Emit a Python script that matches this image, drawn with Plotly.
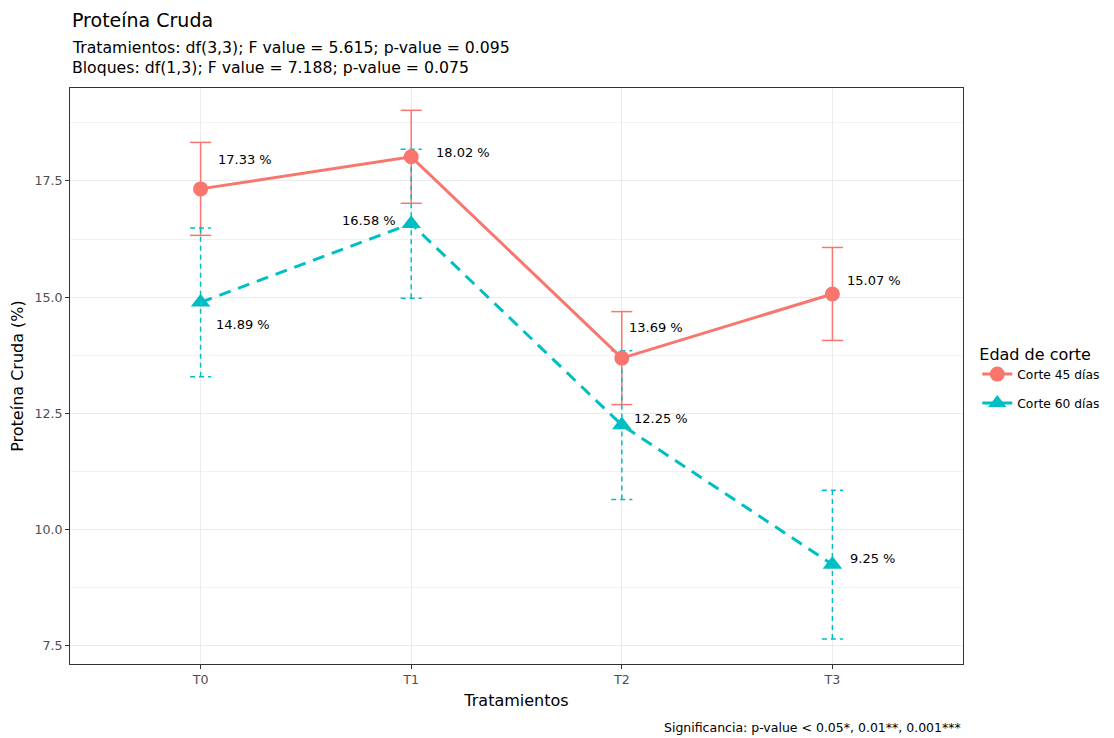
import plotly.graph_objects as go

categories = ["T0", "T1", "T2", "T3"]
series_names = ["Corte 45 días", "Corte 60 días"]
corte45 = [17.33, 18.02, 13.69, 15.07]
corte45_se = [1.0, 1.0, 1.0, 1.0]
corte60 = [14.89, 16.58, 12.25, 9.25]
corte60_se = [1.6, 1.6, 1.6, 1.6]
y_ticks = [7.5, 10.0, 12.5, 15.0, 17.5]

# styling / placement (not data)
colors = ["#F8766D", "#00BFC4"]
label_offsets = [
    [(44, 29), (52, 4), (34, 31), (42, 13)],
    [(42, -22), (-42, 3), (39, 7), (40, 6)],
]
cap_half = 0.05
FONT = "DejaVu Sans, Liberation Sans, Arial, sans-serif"

xs = list(range(len(categories)))
fig = go.Figure()

series = [(corte45, corte45_se), (corte60, corte60_se)]
line_dash = ["solid", "12px,8px"]
err_dash = ["solid", "5px,4px"]
symbols = ["circle", "triangle-up"]
msize = [15, 17]

for i, (vals, se) in enumerate(series):
    ex, ey = [], []
    for x, v, s in zip(xs, vals, se):
        ex += [x, x, None, x - cap_half, x + cap_half, None, x - cap_half, x + cap_half, None]
        ey += [v - s, v + s, None, v + s, v + s, None, v - s, v - s, None]
    fig.add_trace(go.Scatter(x=ex, y=ey, mode="lines", showlegend=False, hoverinfo="skip",
                             line=dict(color=colors[i], width=1.5, dash=err_dash[i])))

for i, (vals, se) in enumerate(series):
    fig.add_trace(go.Scatter(x=xs, y=vals, mode="lines+markers", name=series_names[i],
                             legendgroup=f"g{i}",
                             line=dict(color=colors[i], width=3, dash=line_dash[i]),
                             marker=dict(symbol=symbols[i], size=msize[i], color=colors[i])))

annotations = []
for i, (vals, se) in enumerate(series):
    for j, (x, v) in enumerate(zip(xs, vals)):
        dx, dy = label_offsets[i][j]
        annotations.append(dict(x=x, y=v, xref="x", yref="y", text=f"{v:.2f} %", showarrow=False,
                                xshift=dx, yshift=dy, font=dict(size=13, color="black")))

annotations += [
    dict(x=0, y=1, xref="paper", yref="paper", yshift=41, xanchor="left", yanchor="middle",
         showarrow=False, text="Tratamientos: df(3,3); F value = 5.615; p-value = 0.095",
         font=dict(size=15.7, color="black")),
    dict(x=0, y=1, xref="paper", yref="paper", yshift=21, xanchor="left", yanchor="middle",
         showarrow=False, text="Bloques: df(1,3); F value = 7.188; p-value = 0.075",
         font=dict(size=15.7, color="black")),
    dict(x=0, y=1, xref="paper", yref="paper", yshift=68, xanchor="left", yanchor="middle",
         showarrow=False, text="Proteína Cruda", font=dict(size=19, color="black")),
    dict(x=1, y=0, xref="paper", yref="paper", yshift=-63, xanchor="right", yanchor="middle",
         showarrow=False, text="Significancia: p-value < 0.05*, 0.01**, 0.001***",
         font=dict(size=12.5, color="black")),
]

fig.update_layout(
    width=1106, height=730,
    margin=dict(l=62, r=151, t=80, b=74, autoexpand=False),
    paper_bgcolor="white", plot_bgcolor="white",
    font=dict(family=FONT, color="black"),
    annotations=annotations,
    legend=dict(title=dict(text="Edad de corte", font=dict(size=16)), font=dict(size=12.3),
                x=1.016, xanchor="left", y=0.496, yanchor="middle", tracegroupgap=10,
                itemwidth=30, borderwidth=0),
    xaxis=dict(range=[-0.62, 3.62], tickvals=xs, ticktext=categories, showgrid=True,
               gridcolor="#EBEBEB", gridwidth=1.2, zeroline=False, automargin=False,
               ticks="outside", ticklen=4, tickcolor="#333333",
               tickfont=dict(size=12.6, color="#4D4D4D"),
               title=dict(text="Tratamientos", font=dict(size=16), standoff=8),
               showline=True, linecolor="#333333", linewidth=1, mirror=True),
    yaxis=dict(range=[7.11, 19.5], tickvals=y_ticks, ticktext=[f"{t:.1f}" for t in y_ticks],
               showgrid=True, gridcolor="#EBEBEB", gridwidth=1.2, zeroline=False, automargin=False,
               minor=dict(tickvals=[8.75, 11.25, 13.75, 16.25, 18.75], showgrid=True,
                          gridcolor="#F2F2F2", gridwidth=0.8, ticks=""),
               ticks="outside", ticklen=4, tickcolor="#333333",
               tickfont=dict(size=12.6, color="#4D4D4D"),
               title=dict(text="Proteína Cruda (%)", font=dict(size=16), standoff=8),
               showline=True, linecolor="#333333", linewidth=1, mirror=True),
)

fig.write_html("out.html")
